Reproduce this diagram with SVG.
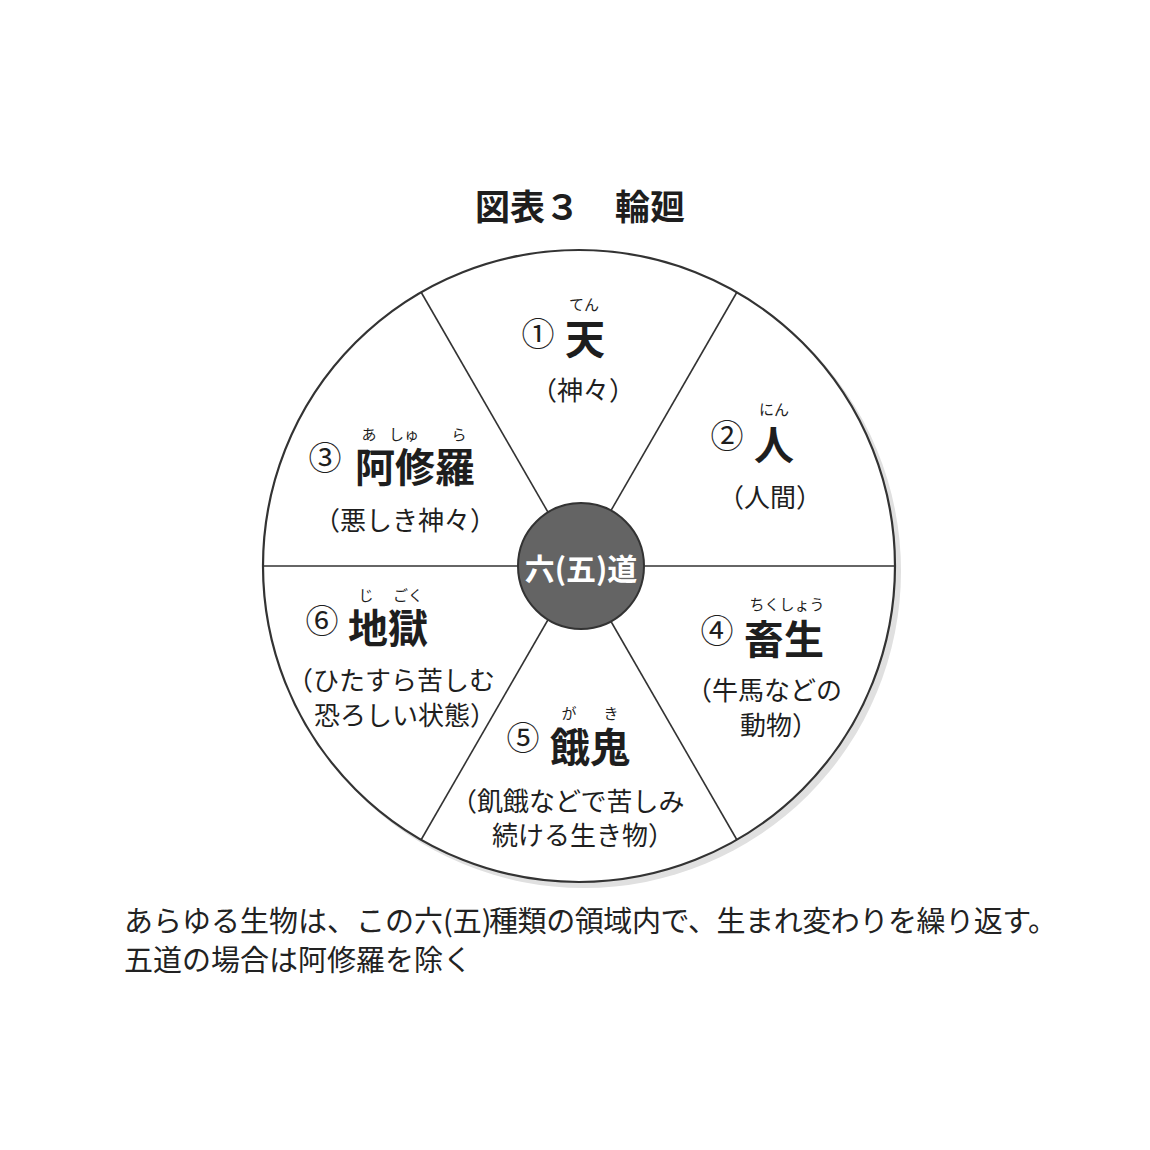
<svg xmlns="http://www.w3.org/2000/svg" width="1150" height="1150" viewBox="0 0 1150 1150">
<style>
.jp{font-family:"Noto Sans CJK JP","Noto Sans CJK SC",sans-serif;fill:#1e1e1e}
.num{font-size:33px;text-anchor:middle}
.big{font-size:40px;font-weight:bold;text-anchor:middle}
.ruby{font-size:15px;text-anchor:middle}
.desc{font-size:26px}
.mid{text-anchor:middle}
.cap{font-size:29px;fill:#222}
.spoke{stroke:#333;stroke-width:1.6;fill:none}
</style>
<rect width="1150" height="1150" fill="#fff"/>
<text id="title" class="jp mid" x="580" y="220" font-size="35" font-weight="bold">図表３　輪廻</text>
<g id="wheel">
<circle cx="584" cy="571" r="317" fill="#e0e0e0"/>
<circle cx="579" cy="566" r="316" fill="#fff" stroke="#333" stroke-width="2.2"/>
</g>
<g id="connectors">
<line class="spoke" x1="579" y1="566" x2="895" y2="566"/>
<line class="spoke" x1="579" y1="566" x2="263" y2="566"/>
<line class="spoke" x1="579" y1="566" x2="737" y2="292"/>
<line class="spoke" x1="579" y1="566" x2="421" y2="292"/>
<line class="spoke" x1="579" y1="566" x2="737" y2="840"/>
<line class="spoke" x1="579" y1="566" x2="421" y2="840"/>
</g>
<g id="center">
<circle cx="581" cy="566" r="63" fill="#646464" stroke="#333" stroke-width="2"/>
<text class="jp mid" x="581" y="580" font-size="30" font-weight="bold" style="fill:#fff">六(五)道</text>
</g>
<g id="ten">
<text class="jp num" x="538" y="346">①</text>
<text class="jp ruby" x="584" y="310">てん</text>
<text class="jp big" x="585" y="354">天</text>
<text class="jp desc mid" x="583" y="400">（神々）</text>
</g>
<g id="nin">
<text class="jp num" x="727" y="448">②</text>
<text class="jp ruby" x="774" y="415">にん</text>
<text class="jp big" x="774" y="460">人</text>
<text class="jp desc mid" x="770" y="507">（人間）</text>
</g>
<g id="ashura">
<text class="jp num" x="325" y="470">③</text>
<text class="jp ruby" x="369" y="440">あ</text>
<text class="jp ruby" x="404" y="440">しゅ</text>
<text class="jp ruby" x="459" y="440">ら</text>
<text class="jp big" x="415" y="482">阿修羅</text>
<text class="jp desc mid" x="405" y="530">（悪しき神々）</text>
</g>
<g id="jigoku">
<text class="jp num" x="322" y="633">⑥</text>
<text class="jp ruby" x="366" y="601">じ</text>
<text class="jp ruby" x="408" y="601">ごく</text>
<text class="jp big" x="388" y="643">地獄</text>
<text class="jp desc" x="287" y="690">（ひたすら苦しむ</text>
<text class="jp desc" x="314" y="725">恐ろしい状態）</text>
</g>
<g id="chikusho">
<text class="jp num" x="717" y="643">④</text>
<text class="jp ruby" x="787" y="610">ちくしょう</text>
<text class="jp big" x="784" y="654">畜生</text>
<text class="jp desc" x="686" y="700">（牛馬などの</text>
<text class="jp desc" x="740" y="735">動物）</text>
</g>
<g id="gaki">
<text class="jp num" x="523" y="750">⑤</text>
<text class="jp ruby" x="569" y="719">が</text>
<text class="jp ruby" x="611" y="719">き</text>
<text class="jp big" x="590" y="762">餓鬼</text>
<text class="jp desc" x="451" y="811">（飢餓などで苦しみ</text>
<text class="jp desc" x="492" y="845">続ける生き物）</text>
</g>
<g id="caption">
<text class="jp cap" x="124" y="932">あらゆる生物は、この六(五)<tspan x="489" textLength="568" lengthAdjust="spacing">種類の領域内で、生まれ変わりを繰り返す。</tspan></text>
<text class="jp cap" x="124" y="971">五道の場合は阿修羅を除く</text>
</g>
</svg>
